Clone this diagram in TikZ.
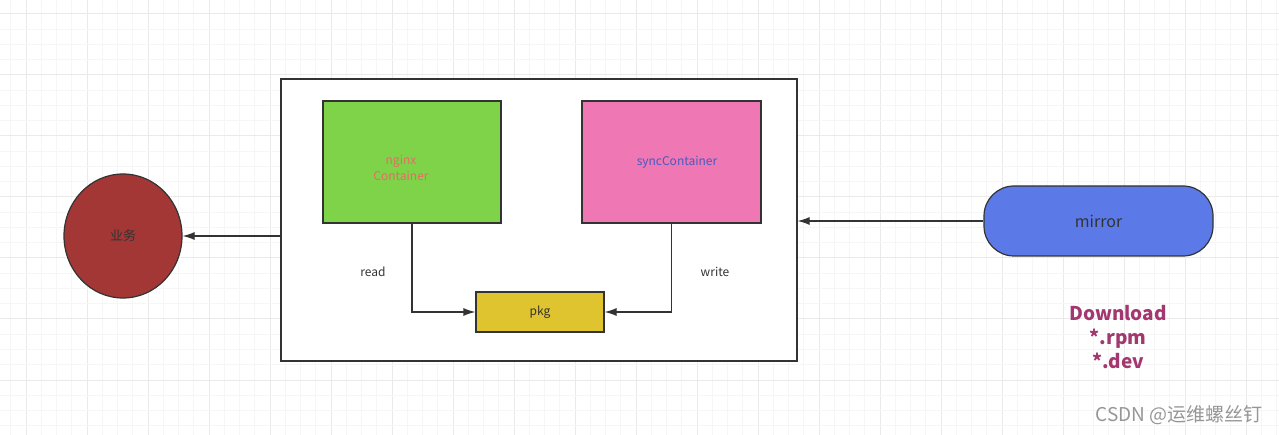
\documentclass[tikz,border=0pt]{standalone}
\usepackage{fontspec}
\setmainfont{Noto Sans CJK SC}
\usetikzlibrary{arrows.meta,positioning,shapes.geometric}
\definecolor{gridminor}{RGB}{246,246,246}
\definecolor{gridmajor}{RGB}{234,234,234}
\definecolor{edge}{RGB}{51,51,51}
\definecolor{nginxfill}{RGB}{126,211,72}
\definecolor{nginxtext}{RGB}{234,107,102}
\definecolor{syncfill}{RGB}{238,119,180}
\definecolor{synctext}{RGB}{74,90,190}
\definecolor{bizfill}{RGB}{163,55,54}
\definecolor{mirrorfill}{RGB}{91,122,232}
\definecolor{pkgfill}{RGB}{224,196,47}
\definecolor{dltext}{RGB}{163,55,111}
\definecolor{wmtext}{RGB}{150,150,150}

\begin{document}
\begin{tikzpicture}[x=1pt,y=-1pt,>={Latex[length=12pt,width=8pt]},
    box/.style={draw=edge,line width=1.2pt,inner sep=0pt,align=center},
    conn/.style={->,draw=edge,line width=1.2pt},
    lbl/.style={text=edge,font=\fontsize{12}{14}\selectfont}]
    \useasboundingbox (0,0) rectangle (1279,435);
    % background grid
    \foreach \i in {-1,...,83} {
        \pgfmathtruncatemacro{\major}{mod(\i+8,4)==0}
        \ifnum\major=1 \def\gc{gridmajor}\else \def\gc{gridminor}\fi
        \draw[\gc,line width=1pt] (26+15.25*\i,0) -- (26+15.25*\i,435);
    }
    \foreach \j in {-1,...,28} {
        \pgfmathtruncatemacro{\major}{mod(\j+8,4)==0}
        \ifnum\major=1 \def\gc{gridmajor}\else \def\gc{gridminor}\fi
        \draw[\gc,line width=1pt] (0,14+15.25*\j) -- (1279,14+15.25*\j);
    }
    % nodes
    \node[box,fill=white,minimum width=516pt,minimum height=282pt] (outer) at (539,220) {};
    \node[box,fill=nginxfill,minimum width=178pt,minimum height=122pt,text=nginxtext,
          font=\fontsize{12}{16}\selectfont] (nginx) at (412,162)
          {\rule{0pt}{22pt}\hspace*{-22pt}nginx\\\hspace*{-22pt}Container};
    \node[box,fill=syncfill,minimum width=179pt,minimum height=122pt,text=synctext,
          font=\fontsize{12}{15}\selectfont] (sync) at (671.5,162) {\hspace*{11pt}\raisebox{-2pt}{syncContainer}};
    \node[box,fill=pkgfill,minimum width=128pt,minimum height=40pt,text=edge,
          font=\fontsize{12}{15}\selectfont] (pkg) at (540,312) {pkg};
    \node[box,ellipse,fill=bizfill,minimum width=118pt,minimum height=124pt,text=edge,
          font=\fontsize{13}{15}\selectfont] (biz) at (123,236) {业务};
    \node[box,fill=mirrorfill,rounded corners=30pt,minimum width=229pt,minimum height=70pt,
          text=edge,font=\fontsize{16}{18}\selectfont] (mirror) at (1098.5,221) {mirror};
    \node[lbl] (read) at (373,272) {read};
    \node[lbl] (write) at (715,272) {write};
    \node[text=dltext,align=center,font=\fontsize{19}{24}\bfseries] (dl) at (1118,337) {Download\\*.rpm\\*.dev};
    \node[text=wmtext,anchor=east,font=\fontsize{19}{21}\selectfont] (wm) at (1266,415) {CSDN @运维螺丝钉};
    % connectors
    \draw[conn] (outer.west |- biz.east) -- (biz.east);
    \draw[conn] (mirror.west) -- (outer.east |- mirror.west);
    \draw[conn] (nginx.south) |- (pkg.west);
    \draw[conn] (sync.south) |- (pkg.east);
\end{tikzpicture}
\end{document}
